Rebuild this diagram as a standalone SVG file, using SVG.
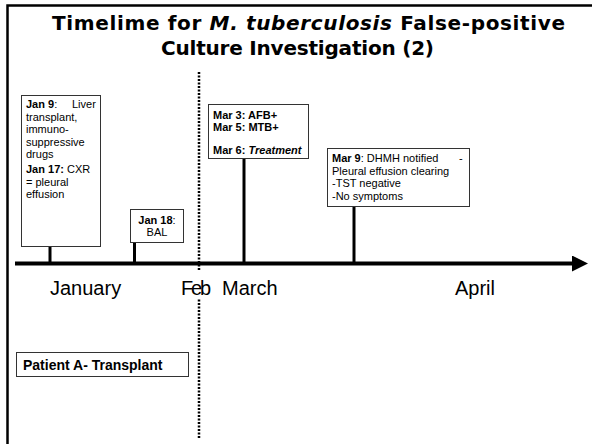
<svg xmlns="http://www.w3.org/2000/svg" width="592" height="444" viewBox="0 0 592 444">
<style>
.t{font-family:"Liberation Sans",Arial,sans-serif;font-size:11px;fill:#000}
.b{font-weight:bold}
.box{fill:#fff;stroke:#333;stroke-width:1}
.stem{stroke:#000;stroke-width:3}
.month{font-family:"Liberation Sans",Arial,sans-serif;font-size:20px;fill:#000}
.title{font-family:"DejaVu Sans","Liberation Sans",sans-serif;font-size:20px;font-weight:bold;fill:#000}
</style>
<defs>
<marker id="arr" markerWidth="4" markerHeight="4" refX="0" refY="2" orient="auto" markerUnits="strokeWidth">
<path d="M0,0 L4,2 L0,4 Z" fill="#000"/>
</marker>
</defs>
<rect width="592" height="444" fill="#fff"/>
<g id="frame">
<path d="M7.5,444 V5.5 H592" fill="none" stroke="#000" stroke-width="2.5"/>
</g>
<g id="title">
<text class="title" x="52" y="30" textLength="513">Timelime for <tspan font-style="italic">M. tuberculosis</tspan> False-positive</text>
<text class="title" x="161" y="55" textLength="273">Culture Investigation (2)</text>
</g>
<g id="connectors">
<line x1="15" y1="263.5" x2="572" y2="263.5" stroke="#000" stroke-width="4" marker-end="url(#arr)"/>
<line x1="199" y1="72" x2="199" y2="438" stroke="#000" stroke-width="2.5" stroke-dasharray="2,1.5"/>
<line class="stem" x1="50" y1="247" x2="50" y2="264"/>
<line class="stem" x1="134.5" y1="243" x2="134.5" y2="264"/>
<line class="stem" x1="244" y1="159" x2="244" y2="264"/>
<line class="stem" x1="354" y1="207" x2="354" y2="264"/>
</g>
<g id="months">
<rect x="178" y="271" width="36" height="27" fill="#fff"/>
<text class="month" x="50" y="295">January</text>
<text class="month" x="181" y="295" textLength="30">Feb</text>
<text class="month" x="222" y="295">March</text>
<text class="month" x="455" y="295">April</text>
</g>
<g id="jan9">
<rect class="box" x="21.5" y="95.5" width="79" height="151"/>
<text class="t" x="26" y="108"><tspan class="b">Jan 9</tspan>:</text>
<text class="t" x="72" y="108">Liver</text>
<text class="t" x="26" y="120.5">transplant,</text>
<text class="t" x="26" y="133">immuno-</text>
<text class="t" x="26" y="145.5">suppressive</text>
<text class="t" x="26" y="158">drugs</text>
<text class="t" x="26" y="173"><tspan class="b">Jan 17:</tspan> CXR</text>
<text class="t" x="26" y="185.5">= pleural</text>
<text class="t" x="26" y="198">effusion</text>
</g>
<g id="jan18">
<rect class="box" x="130.5" y="209.5" width="53" height="33"/>
<text class="t" x="157" y="224" text-anchor="middle"><tspan class="b">Jan 18</tspan>:</text>
<text class="t" x="157" y="236" text-anchor="middle">BAL</text>
</g>
<g id="mar">
<rect class="box" x="208.5" y="104.5" width="100" height="54"/>
<text class="t b" x="213" y="118.5">Mar 3: AFB+</text>
<text class="t b" x="213" y="130.5">Mar 5: MTB+</text>
<text class="t b" x="213" y="153.5">Mar 6: <tspan font-style="italic">Treatment</tspan></text>
</g>
<g id="mar9">
<rect class="box" x="327.5" y="148.5" width="142" height="58"/>
<text class="t" x="332" y="162"><tspan class="b">Mar 9</tspan>: DHMH notified</text>
<text class="t" x="459" y="162">-</text>
<text class="t" x="332" y="174.5">Pleural effusion clearing</text>
<text class="t" x="332" y="187">-TST negative</text>
<text class="t" x="332" y="199.5">-No symptoms</text>
</g>
<g id="patient">
<rect class="box" x="16.5" y="352.5" width="172" height="24"/>
<text class="t b" x="23" y="370" style="font-size:14px">Patient A- Transplant</text>
</g>
</svg>
